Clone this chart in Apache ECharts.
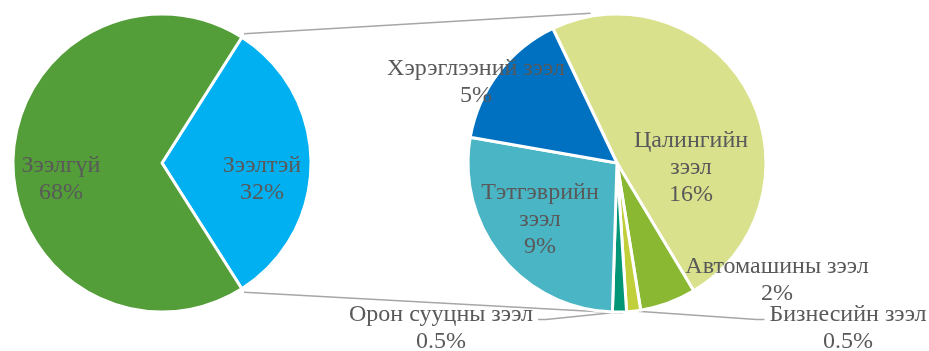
<!DOCTYPE html>
<html>
<head>
<meta charset="utf-8">
<script src="https://cdn.jsdelivr.net/npm/echarts@6/dist/echarts.min.js"></script>
<style>
  html, body { margin: 0; padding: 0; background: #ffffff; }
  #chart { width: 929px; height: 351px; }
</style>
</head>
<body>
<div id="chart"></div>
<script>
// Respondents with / without a loan (%)
const mainNames = ['Зээлтэй', 'Зээлгүй'];
const mainValues = [32, 68];

// Borrowers broken down by loan type (% of all respondents)
const loanNames = ['Цалингийн зээл', 'Автомашины зээл', 'Бизнесийн зээл', 'Орон сууцны зээл', 'Тэтгэврийн зээл', 'Хэрэглээний зээл'];
const loanValues = [16, 2, 0.5, 0.5, 9, 5];

// Styling and layout
const mainColors = ['#00b0f0', '#549e39'];
const loanColors = ['#d9e18c', '#8ab833', '#c0cf3a', '#029676', '#4ab5c4', '#0070c0'];
const PIE_R = 149;
const LEFT = { cx: 162, cy: 163 };
const RIGHT = { cx: 617, cy: 163, start: 115.5 };
const FONT = 24, LINE_H = 27;
const GREY = '#a6a6a6';

// label centres (px)
const mainLabelPos = [[262, 179], [61, 179]];
const loanLabelPos = [[691, 168], [777, 280], [848, 328], [441, 328], [540, 220], [476, 82]];
const wrapped = [true, false, false, false, true, false];
const leader = [false, false, true, true, false, false];

const textStyle = { fontFamily: 'Liberation Serif', fontSize: FONT, lineHeight: LINE_H, color: '#595959' };

function fmtValue(v) { return v + '%'; }

// mid-angle (deg, counter-clockwise from east) of each slice of the loan pie
function loanBisector(i) {
  const total = loanValues.reduce((a, b) => a + b, 0);
  let before = 0;
  for (let j = 0; j < i; j++) before += loanValues[j];
  return RIGHT.start - (before + loanValues[i] / 2) / total * 360;
}

function polar(c, r, deg) {
  const a = deg * Math.PI / 180;
  return [c.cx + r * Math.cos(a), c.cy - r * Math.sin(a)];
}

// connector lines between the two pies, from the edges of the "with loan" slice
const mainTotal = mainValues.reduce((a, b) => a + b, 0);
const halfAngle = mainValues[0] / mainTotal * 180;
const topA = polar(LEFT, PIE_R + 4, halfAngle);
const botA = polar(LEFT, PIE_R + 4, -halfAngle);
const topB = polar(RIGHT, PIE_R + 3, 100);
const botB = polar(RIGHT, PIE_R + 1, -88);

const chart = echarts.init(document.getElementById('chart'), null, { renderer: 'canvas' });

chart.setOption({
  animation: false,
  backgroundColor: '#ffffff',
  graphic: [
    { type: 'line', shape: { x1: topA[0], y1: topA[1], x2: topB[0], y2: topB[1] }, style: { stroke: GREY, lineWidth: 1.5 }, z: 1 },
    { type: 'line', shape: { x1: botA[0], y1: botA[1], x2: botB[0], y2: botB[1] }, style: { stroke: GREY, lineWidth: 1.5 }, z: 1 }
  ],
  series: [
    {
      type: 'pie',
      center: [LEFT.cx, LEFT.cy],
      radius: [0, PIE_R],
      startAngle: halfAngle,
      clockwise: true,
      avoidLabelOverlap: false,
      silent: true,
      itemStyle: { borderColor: '#ffffff', borderWidth: 3 },
      label: {
        show: true,
        position: 'inside',
        ...textStyle,
        formatter: p => p.name + '\n' + fmtValue(p.value)
      },
      labelLine: { show: false },
      labelLayout: p => {
        const [x, y] = mainLabelPos[p.dataIndex];
        return { x, y, align: 'center', verticalAlign: 'middle' };
      },
      data: mainNames.map((n, i) => ({ name: n, value: mainValues[i], itemStyle: { color: mainColors[i] } }))
    },
    {
      type: 'pie',
      center: [RIGHT.cx, RIGHT.cy],
      radius: [0, PIE_R],
      startAngle: RIGHT.start,
      clockwise: true,
      avoidLabelOverlap: false,
      silent: true,
      itemStyle: { borderColor: '#ffffff', borderWidth: 3 },
      label: {
        show: true,
        position: 'outside',
        ...textStyle,
        formatter: p => (wrapped[p.dataIndex] ? p.name.replace(' ', '\n') : p.name) + '\n' + fmtValue(p.value)
      },
      labelLine: { show: true, lineStyle: { color: GREY, width: 1.5 } },
      labelLayout: p => {
        const i = p.dataIndex;
        const [x, y] = loanLabelPos[i];
        const out = { x, y, align: 'center', verticalAlign: 'middle' };
        if (leader[i]) {
          const p0 = polar(RIGHT, PIE_R, loanBisector(i));
          const w = p.labelRect.width, h = p.labelRect.height;
          const ly = y - h / 2 + LINE_H / 2 + 5;
          const toLeft = p0[0] > x;
          const end = toLeft ? [x + w / 2 + 5, ly] : [x - w / 2 - 5, ly];
          const mid = [end[0] + (toLeft ? 8 : -8), ly];
          out.labelLinePoints = [p0, mid, end];
        }
        return out;
      },
      data: loanNames.map((n, i) => ({
        name: n,
        value: loanValues[i],
        itemStyle: { color: loanColors[i] },
        labelLine: { show: leader[i] }
      }))
    }
  ]
});
</script>
</body>
</html>
